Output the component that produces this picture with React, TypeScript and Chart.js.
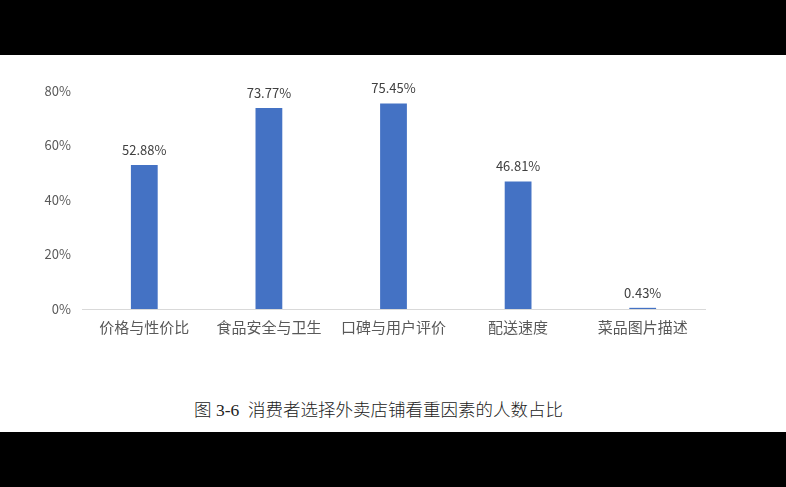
import { useEffect, useRef } from 'react';
import { Chart, registerables, Plugin } from 'chart.js';

Chart.register(...registerables);

const categories = ['价格与性价比', '食品安全与卫生', '口碑与用户评价', '配送速度', '菜品图片描述'];
const shares = [52.88, 73.77, 75.45, 46.81, 0.43];
const yTicks = [0, 20, 40, 60, 80];

const sansFont = '"Noto Sans CJK SC", "Noto Sans", sans-serif';

const valueLabels: Plugin<'bar'> = {
  id: 'valueLabels',
  afterDatasetsDraw(chart) {
    const ctx = chart.ctx;
    const meta = chart.getDatasetMeta(0);
    ctx.save();
    ctx.font = `13px ${sansFont}`;
    ctx.fillStyle = '#404040';
    ctx.textAlign = 'center';
    ctx.textBaseline = 'middle';
    meta.data.forEach((bar, i) => {
      const v = shares[i];
      ctx.fillText(v.toFixed(2) + '%', bar.x, bar.y - 15);
    });
    ctx.restore();
  },
};

const BarChart: React.FC = () => {
  const chartRef = useRef<HTMLCanvasElement>(null);

  useEffect(() => {
    if (!chartRef.current) return;
    const chart = new Chart(chartRef.current, {
      type: 'bar',
      data: {
        labels: categories,
        datasets: [
          {
            data: shares,
            backgroundColor: '#4472C4',
            barPercentage: 0.215,
            categoryPercentage: 1,
          },
        ],
      },
      options: {
        animation: false,
        responsive: false,
        layout: { padding: { top: 36, right: 81, left: 0, bottom: 0 } },
        plugins: {
          legend: { display: false },
          tooltip: { enabled: false },
        },
        scales: {
          x: {
            grid: { display: false, drawTicks: false },
            border: { display: true, color: '#D9D9D9', width: 1 },
            ticks: {
              color: '#595959',
              font: { family: sansFont, size: 15 },
              padding: 9,
            },
            afterFit: (s) => {
              s.height = 46;
            },
          },
          y: {
            min: 0,
            max: 80,
            afterBuildTicks: (s) => {
              s.ticks = yTicks.map((value) => ({ value }));
            },
            grid: { display: false, drawTicks: false },
            border: { display: false },
            ticks: {
              color: '#595959',
              font: { family: sansFont, size: 13 },
              padding: 11,
              callback: (v) => v + '%',
            },
            afterFit: (s) => {
              s.width = 82;
            },
          },
        },
      },
      plugins: [valueLabels],
    });
    return () => chart.destroy();
  }, []);

  return <canvas ref={chartRef} width={786} height={300}></canvas>;
};

const App: React.FC = () => {
  return (
    <div
      style={{
        position: 'fixed',
        left: 0,
        top: 0,
        width: 786,
        height: 487,
        background: '#000',
      }}
    >
      <div
        style={{
          position: 'absolute',
          left: 0,
          top: 55,
          width: 786,
          height: 377,
          background: '#fff',
        }}
      >
        <div style={{ position: 'absolute', left: 0, top: 0 }}>
          <BarChart />
        </div>
        <div
          style={{
            position: 'absolute',
            left: 0,
            width: 757,
            top: 343,
            textAlign: 'center',
            fontFamily: '"Liberation Serif", "Noto Sans CJK SC", serif',
            fontSize: 17.5,
            fontWeight: 300,
            color: '#222',
            whiteSpace: 'pre',
            lineHeight: '24px',
          }}
        >
          {'图 3-6  消费者选择外卖店铺看重因素的人数占比'}
        </div>
      </div>
    </div>
  );
};

export default App;
